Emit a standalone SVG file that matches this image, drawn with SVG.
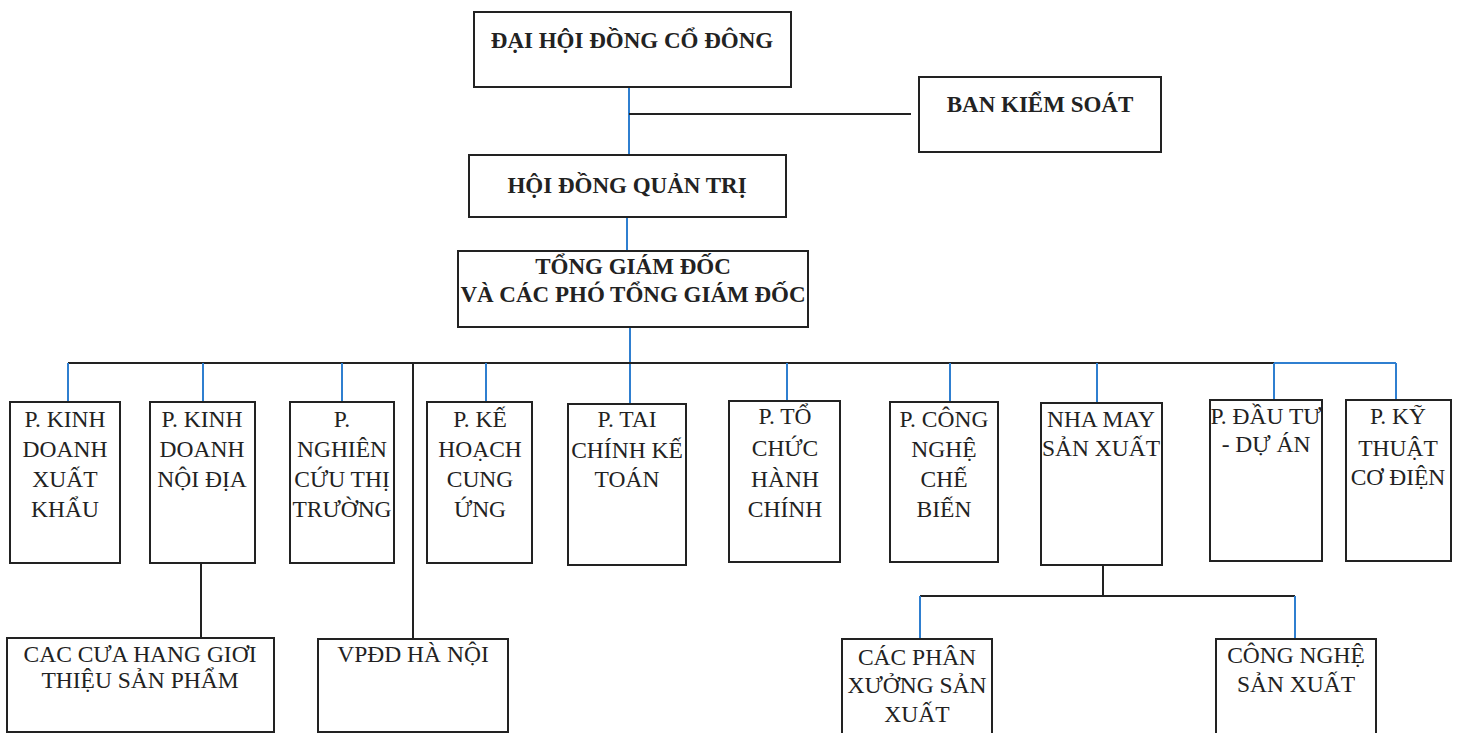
<svg xmlns="http://www.w3.org/2000/svg" width="1459" height="733" viewBox="0 0 1459 733">
<style>
.box{fill:#fff;stroke:#222;stroke-width:2}
.hd{font-family:"Liberation Serif","DejaVu Serif",serif;font-weight:bold;font-size:23px;fill:#222;text-anchor:middle}
.tx{font-family:"Liberation Serif","DejaVu Serif",serif;font-size:23.5px;fill:#222;text-anchor:middle}
.bl{stroke:#2f7fd0;stroke-width:2;fill:none}
.bk{stroke:#222;stroke-width:2;fill:none}
</style>
<rect width="1459" height="733" fill="#fff"/>
<g id="connectors">
<line class="bl" x1="629" y1="87" x2="629" y2="155"/>
<line class="bk" x1="629" y1="114" x2="911" y2="114"/>
<line class="bl" x1="627" y1="217" x2="627" y2="251"/>
<line class="bl" x1="630" y1="327" x2="630" y2="404"/>
<line class="bk" x1="68" y1="363" x2="1274" y2="363"/>
<line class="bl" x1="1274" y1="363" x2="1396" y2="363"/>
<line class="bl" x1="68" y1="363" x2="68" y2="402"/>
<line class="bl" x1="203" y1="363" x2="203" y2="405"/>
<line class="bl" x1="342" y1="363" x2="342" y2="402"/>
<line class="bl" x1="486" y1="363" x2="486" y2="402"/>
<line class="bl" x1="787" y1="363" x2="787" y2="401"/>
<line class="bl" x1="950" y1="363" x2="950" y2="402"/>
<line class="bl" x1="1097" y1="363" x2="1097" y2="403"/>
<line class="bl" x1="1274" y1="363" x2="1274" y2="400"/>
<line class="bl" x1="1396" y1="363" x2="1396" y2="400"/>
<line class="bk" x1="413" y1="363" x2="413" y2="639"/>
<line class="bk" x1="201" y1="563" x2="201" y2="638"/>
<line class="bk" x1="1103" y1="565" x2="1103" y2="596"/>
<line class="bk" x1="920" y1="596" x2="1295" y2="596"/>
<line class="bl" x1="920" y1="596" x2="920" y2="639"/>
<line class="bl" x1="1295" y1="596" x2="1295" y2="639"/>
</g>
<g id="dhdcd"><rect class="box" x="474" y="12" width="317" height="75"/><text class="hd" x="632" y="48">ĐẠI HỘI ĐỒNG CỔ ĐÔNG</text></g>
<g id="bks"><rect class="box" x="919" y="77" width="242" height="75"/><text class="hd" x="1040" y="112">BAN KIỂM SOÁT</text></g>
<g id="hdqt"><rect class="box" x="469" y="155" width="317" height="62"/><text class="hd" x="627" y="193">HỘI ĐỒNG QUẢN TRỊ</text></g>
<g id="tgd"><rect class="box" x="458" y="251" width="350" height="76"/><text class="hd" x="633" y="274">TỔNG GIÁM ĐỐC</text><text class="hd" x="633" y="302">VÀ CÁC PHÓ TỔNG GIÁM ĐỐC</text></g>
<g id="p1"><rect class="box" x="10" y="402" width="110" height="161"/><text class="tx" x="65" y="427">P. KINH</text><text class="tx" x="65" y="457">DOANH</text><text class="tx" x="65" y="487">XUẤT</text><text class="tx" x="65" y="517">KHẨU</text></g>
<g id="p2"><rect class="box" x="150" y="402" width="105" height="161"/><text class="tx" x="202" y="427">P. KINH</text><text class="tx" x="202" y="457">DOANH</text><text class="tx" x="202" y="487">NỘI ĐỊA</text></g>
<g id="p3"><rect class="box" x="290" y="402" width="104" height="161"/><text class="tx" x="342" y="427">P.</text><text class="tx" x="342" y="457">NGHIÊN</text><text class="tx" x="342" y="487">CỨU THỊ</text><text class="tx" x="342" y="517">TRƯỜNG</text></g>
<g id="p4"><rect class="box" x="427" y="402" width="105" height="161"/><text class="tx" x="480" y="427">P. KẾ</text><text class="tx" x="480" y="457">HOẠCH</text><text class="tx" x="480" y="487">CUNG</text><text class="tx" x="480" y="517">ỨNG</text></g>
<g id="p5"><rect class="box" x="568" y="404" width="118" height="161"/><text class="tx" x="627" y="427">P. TAI</text><text class="tx" x="627" y="458">CHÍNH KẾ</text><text class="tx" x="627" y="487">TOÁN</text></g>
<g id="p6"><rect class="box" x="729" y="401" width="111" height="161"/><text class="tx" x="785" y="424">P. TỔ</text><text class="tx" x="785" y="456">CHỨC</text><text class="tx" x="785" y="487">HÀNH</text><text class="tx" x="785" y="517">CHÍNH</text></g>
<g id="p7"><rect class="box" x="890" y="402" width="108" height="160"/><text class="tx" x="944" y="427">P. CÔNG</text><text class="tx" x="944" y="457">NGHỆ</text><text class="tx" x="944" y="487">CHẾ</text><text class="tx" x="944" y="517">BIẾN</text></g>
<g id="p8"><rect class="box" x="1041" y="403" width="121" height="162"/><text class="tx" x="1101" y="427">NHA MAY</text><text class="tx" x="1101" y="456">SẢN XUẤT</text></g>
<g id="p9"><rect class="box" x="1210" y="400" width="112" height="161"/><text class="tx" x="1266" y="424">P. ĐẦU TƯ</text><text class="tx" x="1266" y="452">- DỰ ÁN</text></g>
<g id="p10"><rect class="box" x="1346" y="400" width="105" height="161"/><text class="tx" x="1398" y="424">P. KỸ</text><text class="tx" x="1398" y="456">THUẬT</text><text class="tx" x="1398" y="485">CƠ ĐIỆN</text></g>
<g id="chgt"><rect class="box" x="7" y="638" width="267" height="94"/><text class="tx" x="140" y="662">CAC CƯA HANG GIƠI</text><text class="tx" x="140" y="688">THIỆU SẢN PHẨM</text></g>
<g id="vpdd"><rect class="box" x="318" y="639" width="190" height="93"/><text class="tx" x="413" y="662">VPĐD HÀ NỘI</text></g>
<g id="cpx"><rect class="box" x="842" y="639" width="150" height="100"/><text class="tx" x="917" y="665">CÁC PHÂN</text><text class="tx" x="917" y="693">XƯỞNG SẢN</text><text class="tx" x="917" y="722">XUẤT</text></g>
<g id="cnsx"><rect class="box" x="1216" y="639" width="160" height="100"/><text class="tx" x="1296" y="663">CÔNG NGHỆ</text><text class="tx" x="1296" y="692">SẢN XUẤT</text></g>
</svg>
